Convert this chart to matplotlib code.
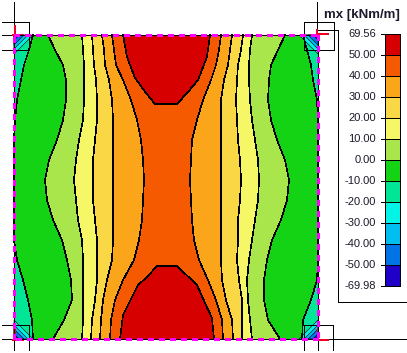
import matplotlib
matplotlib.use('Agg')
import matplotlib.pyplot as plt
import numpy as np

plt.rcParams['font.family'] = ['Liberation Sans', 'DejaVu Sans']

# координаты в пикселях исходной картинки
y_levels = [35, 50, 65, 80, 100, 120, 140, 160, 180, 200, 220, 240, 260, 280, 300, 320, 339]

edge_left = [14] * 17
c1_left = [33, 29, 24, 21, 17, 15, 14, 14, 14, 14, 14, 14, 17, 23, 28, 32, 33]
c2_left = [48, 55, 63, 66, 66, 63, 57, 49, 45, 47, 53, 62, 67, 71, 72, 64, 53]
c3_left = [82, 83, 84, 84, 84, 83, 79, 76, 74, 76, 78, 82, 83, 83, 83, 83, 82]
c4_left = [92, 93, 94, 96, 97, 97, 95, 93, 93, 93, 95, 97, 97, 97, 95, 92, 91]
c5_left = [102, 104, 105, 109, 112, 113, 113, 113, 113, 113, 113, 113, 112, 107, 103, 101, 100]
c6_left = [112, 114, 116, 123, 131, 137, 141, 143, 144, 143, 142, 139, 134, 123, 115, 111, 110]
c6_right = [221, 219, 216, 211, 203, 197, 192, 191, 190, 191, 192, 194, 199, 208, 216, 222, 223]
c5_right = [232, 230, 228, 224, 221, 221, 221, 221, 221, 221, 221, 221, 221, 222, 226, 232, 233]
c4_right = [243, 241, 238, 237, 236, 237, 238, 240, 241, 240, 238, 238, 237, 239, 242, 242, 242]
c3_right = [252, 250, 249, 249, 250, 252, 255, 258, 259, 258, 255, 252, 249, 247, 248, 250, 252]
c2_right = [285, 278, 271, 269, 268, 271, 277, 285, 289, 287, 281, 272, 267, 264, 264, 268, 280]
c1_right = [303, 307, 311, 313, 317, 318, 318, 318, 318, 318, 318, 318, 318, 317, 311, 303, 302]
edge_right = [318] * 17

red_top_x = [123, 127, 135, 146, 155, 177, 188, 198, 207, 210]
red_top_y = [35, 57, 78, 93, 104, 104, 92, 80, 57, 35]
red_bottom_x = [120, 123, 132, 138, 147, 157, 177, 197, 205, 212, 214]
red_bottom_y = [339, 315, 297, 285, 277, 266, 266, 285, 303, 318, 339]

legend_labels = ['69.56', '50.00', '40.00', '30.00', '20.00', '10.00', '0.00', '-10.00',
                 '-20.00', '-30.00', '-40.00', '-50.00', '-69.98']
legend_colors = ['#D70000', '#F55A00', '#FAA51A', '#FAD745', '#F5F766', '#A8E64B', '#14D214',
                 '#00E696', '#00F5E6', '#00BEF0', '#0073E6', '#1E00C8']

corner_sizes = [19, 14, 10, 5]
corner_colors = ['#00F5E6', '#00BEF0', '#0073E6', '#1E00C8']

fig = plt.figure(figsize=(4.07, 3.53), dpi=100)
ax = fig.add_axes([0, 0, 1, 1])
ax.set_xlim(0, 407)
ax.set_ylim(353, 0)
ax.axis('off')

thin = 0.45  # толщина, которая без сглаживания даёт один пиксель

# полосы плиты
contours = [edge_left, c1_left, c2_left, c3_left, c4_left, c5_left, c6_left,
            c6_right, c5_right, c4_right, c3_right, c2_right, c1_right, edge_right]
band_colors = ['#00E696', '#14D214', '#A8E64B', '#F5F766', '#FAD745', '#FAA51A', '#F55A00',
               '#FAA51A', '#FAD745', '#F5F766', '#A8E64B', '#14D214', '#00E696']
for i, col in enumerate(band_colors):
    ax.fill_betweenx(y_levels, contours[i], contours[i + 1], color=col, lw=0)
for c in contours[1:-1]:
    ax.plot(c, y_levels, color='black', lw=thin, antialiased=False)

ax.fill(red_top_x, red_top_y, color='#D70000', lw=0)
ax.fill(red_bottom_x, red_bottom_y, color='#D70000', lw=0)
ax.plot(red_top_x, red_top_y, color='black', lw=thin, antialiased=False)
ax.plot(red_bottom_x, red_bottom_y, color='black', lw=thin, antialiased=False)

# углы плиты
for cx, cy, sx, sy in [(14, 35, 1, 1), (318, 35, -1, 1), (14, 339, 1, -1), (318, 339, -1, -1)]:
    for size, col in zip(corner_sizes, corner_colors):
        ax.fill([cx, cx + sx * size, cx], [cy, cy, cy + sy * size],
                facecolor=col, edgecolor='black', lw=0.4)

# опоры
for x0, x1, y0, y1 in [(2, 29, 21.5, 21.5), (2, 29, 49.5, 49.5), (29, 29, 21.5, 49.5), (2, 14, 35, 35),
                       (14, 14, 2, 35), (304, 334, 21.5, 21.5), (304, 334, 49.5, 49.5),
                       (304, 304, 21.5, 49.5), (334, 334, 21.5, 49.5), (317, 317, 2, 35),
                       (2, 29, 325, 325), (2, 14, 339, 339), (29, 29, 325, 350), (14, 14, 339, 350),
                       (304, 333, 325, 325), (304, 304, 325, 350), (333, 333, 325, 350),
                       (318, 318, 339, 350), (318, 407, 339, 339), (318, 338, 30, 30),
                       (338, 338, 30, 302), (338, 407, 302, 302)]:
    ax.plot([x0, x1], [y0, y1], color='black', lw=thin, antialiased=False, solid_capstyle='butt')

# красные маркеры в углах
for xs, ys in [([14.5, 14.5], [25, 35]), ([12, 23], [35, 35]), ([317, 317], [29, 36]), ([318, 329], [34, 34]),
               ([14.5, 14.5], [326, 339]), ([12, 24], [340, 340]), ([318, 318], [328, 340]), ([316, 329], [340, 340])]:
    ax.plot(xs, ys, color='#F00020', lw=1.2, antialiased=False, solid_capstyle='butt')

# контур плиты: чёрный и пунктир
plate_x = [14, 318, 318, 14, 14]
plate_y = [35, 35, 339, 339, 35]
ax.plot(plate_x, plate_y, color='black', lw=thin, antialiased=False)
for j in range(4):
    ax.plot(plate_x[j:j + 2], plate_y[j:j + 2], color='#FF00FF', lw=2.0, antialiased=False,
            linestyle=(0, (1.8, 1.8)), dash_capstyle='butt')

# легенда
edges = np.linspace(34, 286, len(legend_labels))
for i, col in enumerate(legend_colors):
    ax.fill_between([384.5, 400], edges[i], edges[i + 1], color=col, lw=0)
ax.plot([384.5, 400, 400, 384.5, 384.5], [34, 34, 286, 286, 34], color='black', lw=thin, antialiased=False)
for e, lab in zip(edges, legend_labels):
    ax.plot([381, 400], [e, e], color='black', lw=thin, antialiased=False)
    ax.text(376, e, lab, ha='right', va='center', fontsize=8, color='#1a1a2a')

ax.text(362, 15, 'mx [kNm/m]', ha='center', va='center', fontsize=9.5, fontweight='bold', color='#1a1a2a')

fig.savefig('out.png', dpi=100)
